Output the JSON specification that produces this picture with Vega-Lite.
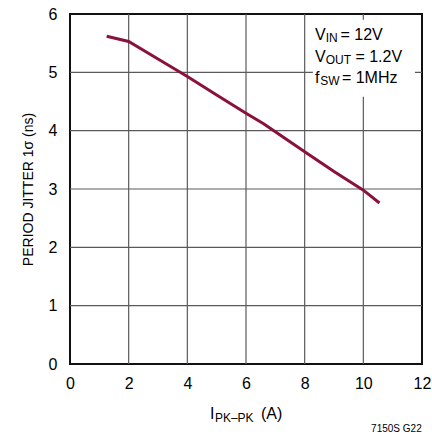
{
  "$schema": "https://vega.github.io/schema/vega-lite/v6.json",
  "autosize": {"type": "none"},
  "padding": {"left": 70, "top": 14, "right": 10, "bottom": 72},
  "width": 352,
  "height": 350,
  "background": "white",
  "config": {
    "view": {"stroke": "#111111", "strokeWidth": 2},
    "font": "Liberation Sans",
    "axis": {
      "labelFont": "Liberation Sans",
      "titleFont": "Liberation Sans",
      "labelColor": "black",
      "titleColor": "black",
      "grid": false,
      "domain": false,
      "ticks": false
    }
  },
  "datasets": {
    "curve": [
      {"x": 1.25, "y": 5.62},
      {"x": 2.0, "y": 5.53},
      {"x": 3.0, "y": 5.23},
      {"x": 4.0, "y": 4.93},
      {"x": 5.0, "y": 4.61},
      {"x": 6.0, "y": 4.3},
      {"x": 6.6, "y": 4.12},
      {"x": 7.0, "y": 3.98},
      {"x": 8.0, "y": 3.64},
      {"x": 9.0, "y": 3.3},
      {"x": 10.0, "y": 2.98},
      {"x": 10.55, "y": 2.76}
    ],
    "gridX": [{"x": 2}, {"x": 4}, {"x": 6}, {"x": 8}, {"x": 10}],
    "gridY": [{"y": 1}, {"y": 2}, {"y": 3}, {"y": 4}, {"y": 5}],
    "box": [
      {"x": 8.28, "x2": 11.76, "y": 4.58, "y2": 5.9}
    ],
    "bigText": [
      {"t": "V", "x": 8.35, "y": 5.555},
      {"t": "= 12V", "x": 9.22, "y": 5.555},
      {"t": "V", "x": 8.35, "y": 5.18},
      {"t": "= 1.2V", "x": 9.73, "y": 5.18},
      {"t": "f", "x": 8.35, "y": 4.817},
      {"t": "= 1MHz", "x": 9.27, "y": 4.817},
      {"t": "I", "x": 4.77, "y": -0.943},
      {"t": "(A)", "x": 6.51, "y": -0.943}
    ],
    "smallText": [
      {"t": "IN", "x": 8.72, "y": 5.526},
      {"t": "OUT", "x": 8.72, "y": 5.15},
      {"t": "SW", "x": 8.53, "y": 4.78},
      {"t": "PK–PK", "x": 4.94, "y": -0.989}
    ],
    "note": [
      {"t": "7150S G22", "x": 11.99, "y": -1.166}
    ]
  },
  "layer": [
    {
      "data": {"name": "gridX"},
      "mark": {"type": "rule", "color": "#5a5a5a", "strokeWidth": 1.2},
      "encoding": {
        "x": {
          "field": "x", "type": "quantitative",
          "scale": {"domain": [0, 12], "nice": false, "zero": false},
          "axis": {"values": [0, 2, 4, 6, 8, 10, 12], "format": "d", "title": null, "labelFontSize": 16, "labelPadding": 11, "labelFlush": false}
        }
      }
    },
    {
      "data": {"name": "gridY"},
      "mark": {"type": "rule", "color": "#5a5a5a", "strokeWidth": 1.2},
      "encoding": {
        "y": {
          "field": "y", "type": "quantitative",
          "scale": {"domain": [0, 6], "nice": false, "zero": false},
          "axis": {"values": [0, 1, 2, 3, 4, 5, 6], "format": "d", "title": "PERIOD JITTER 1σ (ns)", "titleFontSize": 14, "titleFontWeight": "normal", "labelFontSize": 16, "labelPadding": 13, "titleX": -35}
        }
      }
    },
    {
      "data": {"name": "curve"},
      "mark": {"type": "line", "color": "#8a1238", "strokeWidth": 3, "strokeCap": "butt"},
      "encoding": {
        "x": {"field": "x", "type": "quantitative"},
        "y": {"field": "y", "type": "quantitative"}
      }
    },
    {
      "data": {"name": "box"},
      "mark": {"type": "rect", "fill": "white"},
      "encoding": {
        "x": {"field": "x", "type": "quantitative"},
        "x2": {"field": "x2"},
        "y": {"field": "y", "type": "quantitative"},
        "y2": {"field": "y2"}
      }
    },
    {
      "data": {"name": "bigText"},
      "mark": {"type": "text", "align": "left", "baseline": "alphabetic", "fontSize": 16, "color": "black", "font": "Liberation Sans"},
      "encoding": {
        "x": {"field": "x", "type": "quantitative"},
        "y": {"field": "y", "type": "quantitative"},
        "text": {"field": "t"}
      }
    },
    {
      "data": {"name": "smallText"},
      "mark": {"type": "text", "align": "left", "baseline": "alphabetic", "fontSize": 12, "color": "black", "font": "Liberation Sans"},
      "encoding": {
        "x": {"field": "x", "type": "quantitative"},
        "y": {"field": "y", "type": "quantitative"},
        "text": {"field": "t"}
      }
    },
    {
      "data": {"name": "note"},
      "mark": {"type": "text", "align": "right", "baseline": "alphabetic", "fontSize": 10, "color": "black", "font": "Liberation Sans"},
      "encoding": {
        "x": {"field": "x", "type": "quantitative"},
        "y": {"field": "y", "type": "quantitative"},
        "text": {"field": "t"}
      }
    }
  ]
}
